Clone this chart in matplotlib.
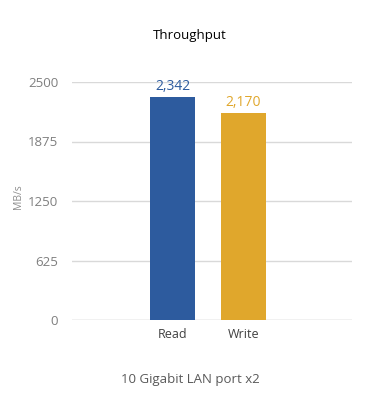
import matplotlib
matplotlib.use("Agg")
import matplotlib.pyplot as plt

categories = ["Read", "Write"]
values = [2342, 2170]
value_labels = ["2,342", "2,170"]
yticks = [0, 625, 1250, 1875, 2500]
colors = ["#2D5B9E", "#E0A72C"]

plt.rcParams['font.family'] = ['Open Sans', 'DejaVu Sans']
fig = plt.figure(figsize=(3.8, 4.2), dpi=100)
ax = fig.add_axes([72/380, 100/420, 280/380, 238/420])

x = list(range(len(categories)))
bars = ax.bar(x, values, width=0.634, color=colors, zorder=3)
for xi, v, lab, c in zip(x, values, value_labels, colors):
    ax.text(xi, v + 35, lab, ha='center', va='bottom', color=c, fontsize=10)

ax.set_xlim(-1.415, 2.528)
ax.set_ylim(0, 2500)
ax.set_yticks(yticks)
ax.set_yticklabels([str(t) for t in yticks], color='#7f7f7f', fontsize=9.5)
ax.set_xticks(x)
ax.set_xticklabels(categories, color='#404040', fontsize=9)
ax.tick_params(length=0)
ax.tick_params(axis='y', pad=10)
ax.tick_params(axis='x', pad=6)
ax.grid(axis='y', color='#d9d9d9', linewidth=1, zorder=0)
for s in ax.spines.values():
    s.set_visible(False)
ax.axhline(0, color='#d9d9d9', linewidth=1, zorder=2)

fig.text(19/380, 1 - 197/420, 'MB/s', rotation=90, ha='center', va='center', color='#8c8c8c', fontsize=7.5)
fig.text(0.5, 1 - 35/420, 'Throughput', ha='center', va='center', fontsize=9.5, color='black')
fig.text(0.5, 1 - 380/420, '10 Gigabit LAN port x2', ha='center', va='center', fontsize=9.5, color='#595959')

fig.savefig('out.png', dpi=100)
